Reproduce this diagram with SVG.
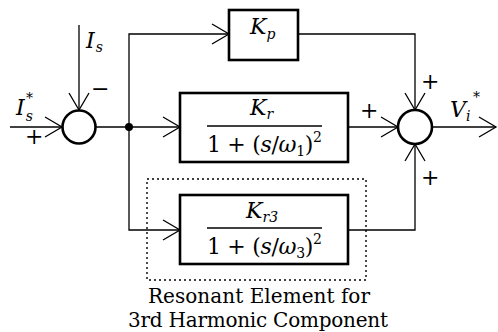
<svg xmlns="http://www.w3.org/2000/svg" width="498" height="332" viewBox="0 0 498 332">
<style>
.box{fill:none;stroke:#000;stroke-width:2.6}
.sum{fill:#fff;stroke:#000;stroke-width:2.6}
.wire{fill:none;stroke:#000;stroke-width:1.3}
.dot{fill:none;stroke:#000;stroke-width:1.4;stroke-dasharray:2 3}
.bar{stroke:#000;stroke-width:1.4}
.m{font-family:'DejaVu Serif','Liberation Serif',serif;font-size:22px;fill:#000}
.i{font-style:italic}
.sub{font-size:14px}
.t{font-family:'DejaVu Serif','Liberation Serif',serif;font-size:20px;fill:#000}
</style>
<defs>
<marker id="ah" markerUnits="userSpaceOnUse" markerWidth="20" markerHeight="24" viewBox="-18 -12 20 24" refX="0" refY="0" orient="auto">
<path d="M-17,-10 L0,0 L-17,10" fill="none" stroke="#000" stroke-width="1.3"/>
</marker>
</defs>
<g id="connectors">
<line class="wire" x1="10" y1="127" x2="62" y2="127" marker-end="url(#ah)"/>
<line class="wire" x1="79" y1="25" x2="79" y2="110" marker-end="url(#ah)"/>
<line class="wire" x1="96" y1="127" x2="180" y2="127" marker-end="url(#ah)"/>
<polyline class="wire" points="129,127 129,34 229,34" marker-end="url(#ah)"/>
<polyline class="wire" points="129,127 129,230 180,230" marker-end="url(#ah)"/>
<polyline class="wire" points="298,34 415,34 415,110" marker-end="url(#ah)"/>
<line class="wire" x1="348" y1="127" x2="398" y2="127" marker-end="url(#ah)"/>
<polyline class="wire" points="348,230 415,230 415,144" marker-end="url(#ah)"/>
<line class="wire" x1="432" y1="127" x2="496" y2="127" marker-end="url(#ah)"/>
<circle cx="129" cy="127" r="4" fill="#000"/>
</g>
<g id="sum1">
<circle class="sum" cx="79" cy="127" r="16.5"/>
<text class="m i" x="86" y="48">I<tspan class="sub" dx="1" dy="4">s</tspan></text>
<text class="m" x="91" y="96">−</text>
<text class="m i" x="16" y="115">I<tspan class="sub" dx="1" dy="6">s</tspan><tspan class="sub" dx="-7" dy="-18">*</tspan></text>
<text class="m" x="25" y="144">+</text>
</g>
<g id="kp">
<rect class="box" x="229" y="10" width="69" height="50"/>
<text class="m i" x="250" y="34">K<tspan class="sub" dx="0" dy="5">p</tspan></text>
</g>
<g id="kr">
<rect class="box" x="180" y="93" width="168" height="69"/>
<text class="m i" x="250" y="115">K<tspan class="sub" dy="4">r</tspan></text>
<line class="bar" x1="207" y1="126" x2="322" y2="126"/>
<text class="m" x="207" y="152" textLength="115">1 + (<tspan class="i">s</tspan>/<tspan class="i">ω</tspan><tspan class="sub" dy="4">1</tspan><tspan dy="-4">)</tspan><tspan class="sub" dy="-10">2</tspan></text>
</g>
<g id="resonant">
<rect class="dot" x="147" y="179" width="219" height="101"/>
<rect class="box" x="180" y="195" width="168" height="69"/>
<text class="m i" x="246" y="218">K<tspan class="sub" dy="4">r3</tspan></text>
<line class="bar" x1="207" y1="228" x2="322" y2="228"/>
<text class="m" x="207" y="254" textLength="115">1 + (<tspan class="i">s</tspan>/<tspan class="i">ω</tspan><tspan class="sub" dy="4">3</tspan><tspan dy="-4">)</tspan><tspan class="sub" dy="-10">2</tspan></text>
<text class="t" x="148" y="303" textLength="222" lengthAdjust="spacing">Resonant Element for</text>
<text class="t" x="128" y="327" textLength="260" lengthAdjust="spacing">3rd Harmonic Component</text>
</g>
<g id="sum2">
<circle class="sum" cx="415" cy="127" r="17"/>
<text class="m" x="421" y="89">+</text>
<text class="m" x="360" y="118">+</text>
<text class="m" x="421" y="185">+</text>
<text class="m i" x="450" y="117">V<tspan class="sub" dy="4">i</tspan></text>
<text class="m sub" x="473" y="102">*</text>
</g>
</svg>
